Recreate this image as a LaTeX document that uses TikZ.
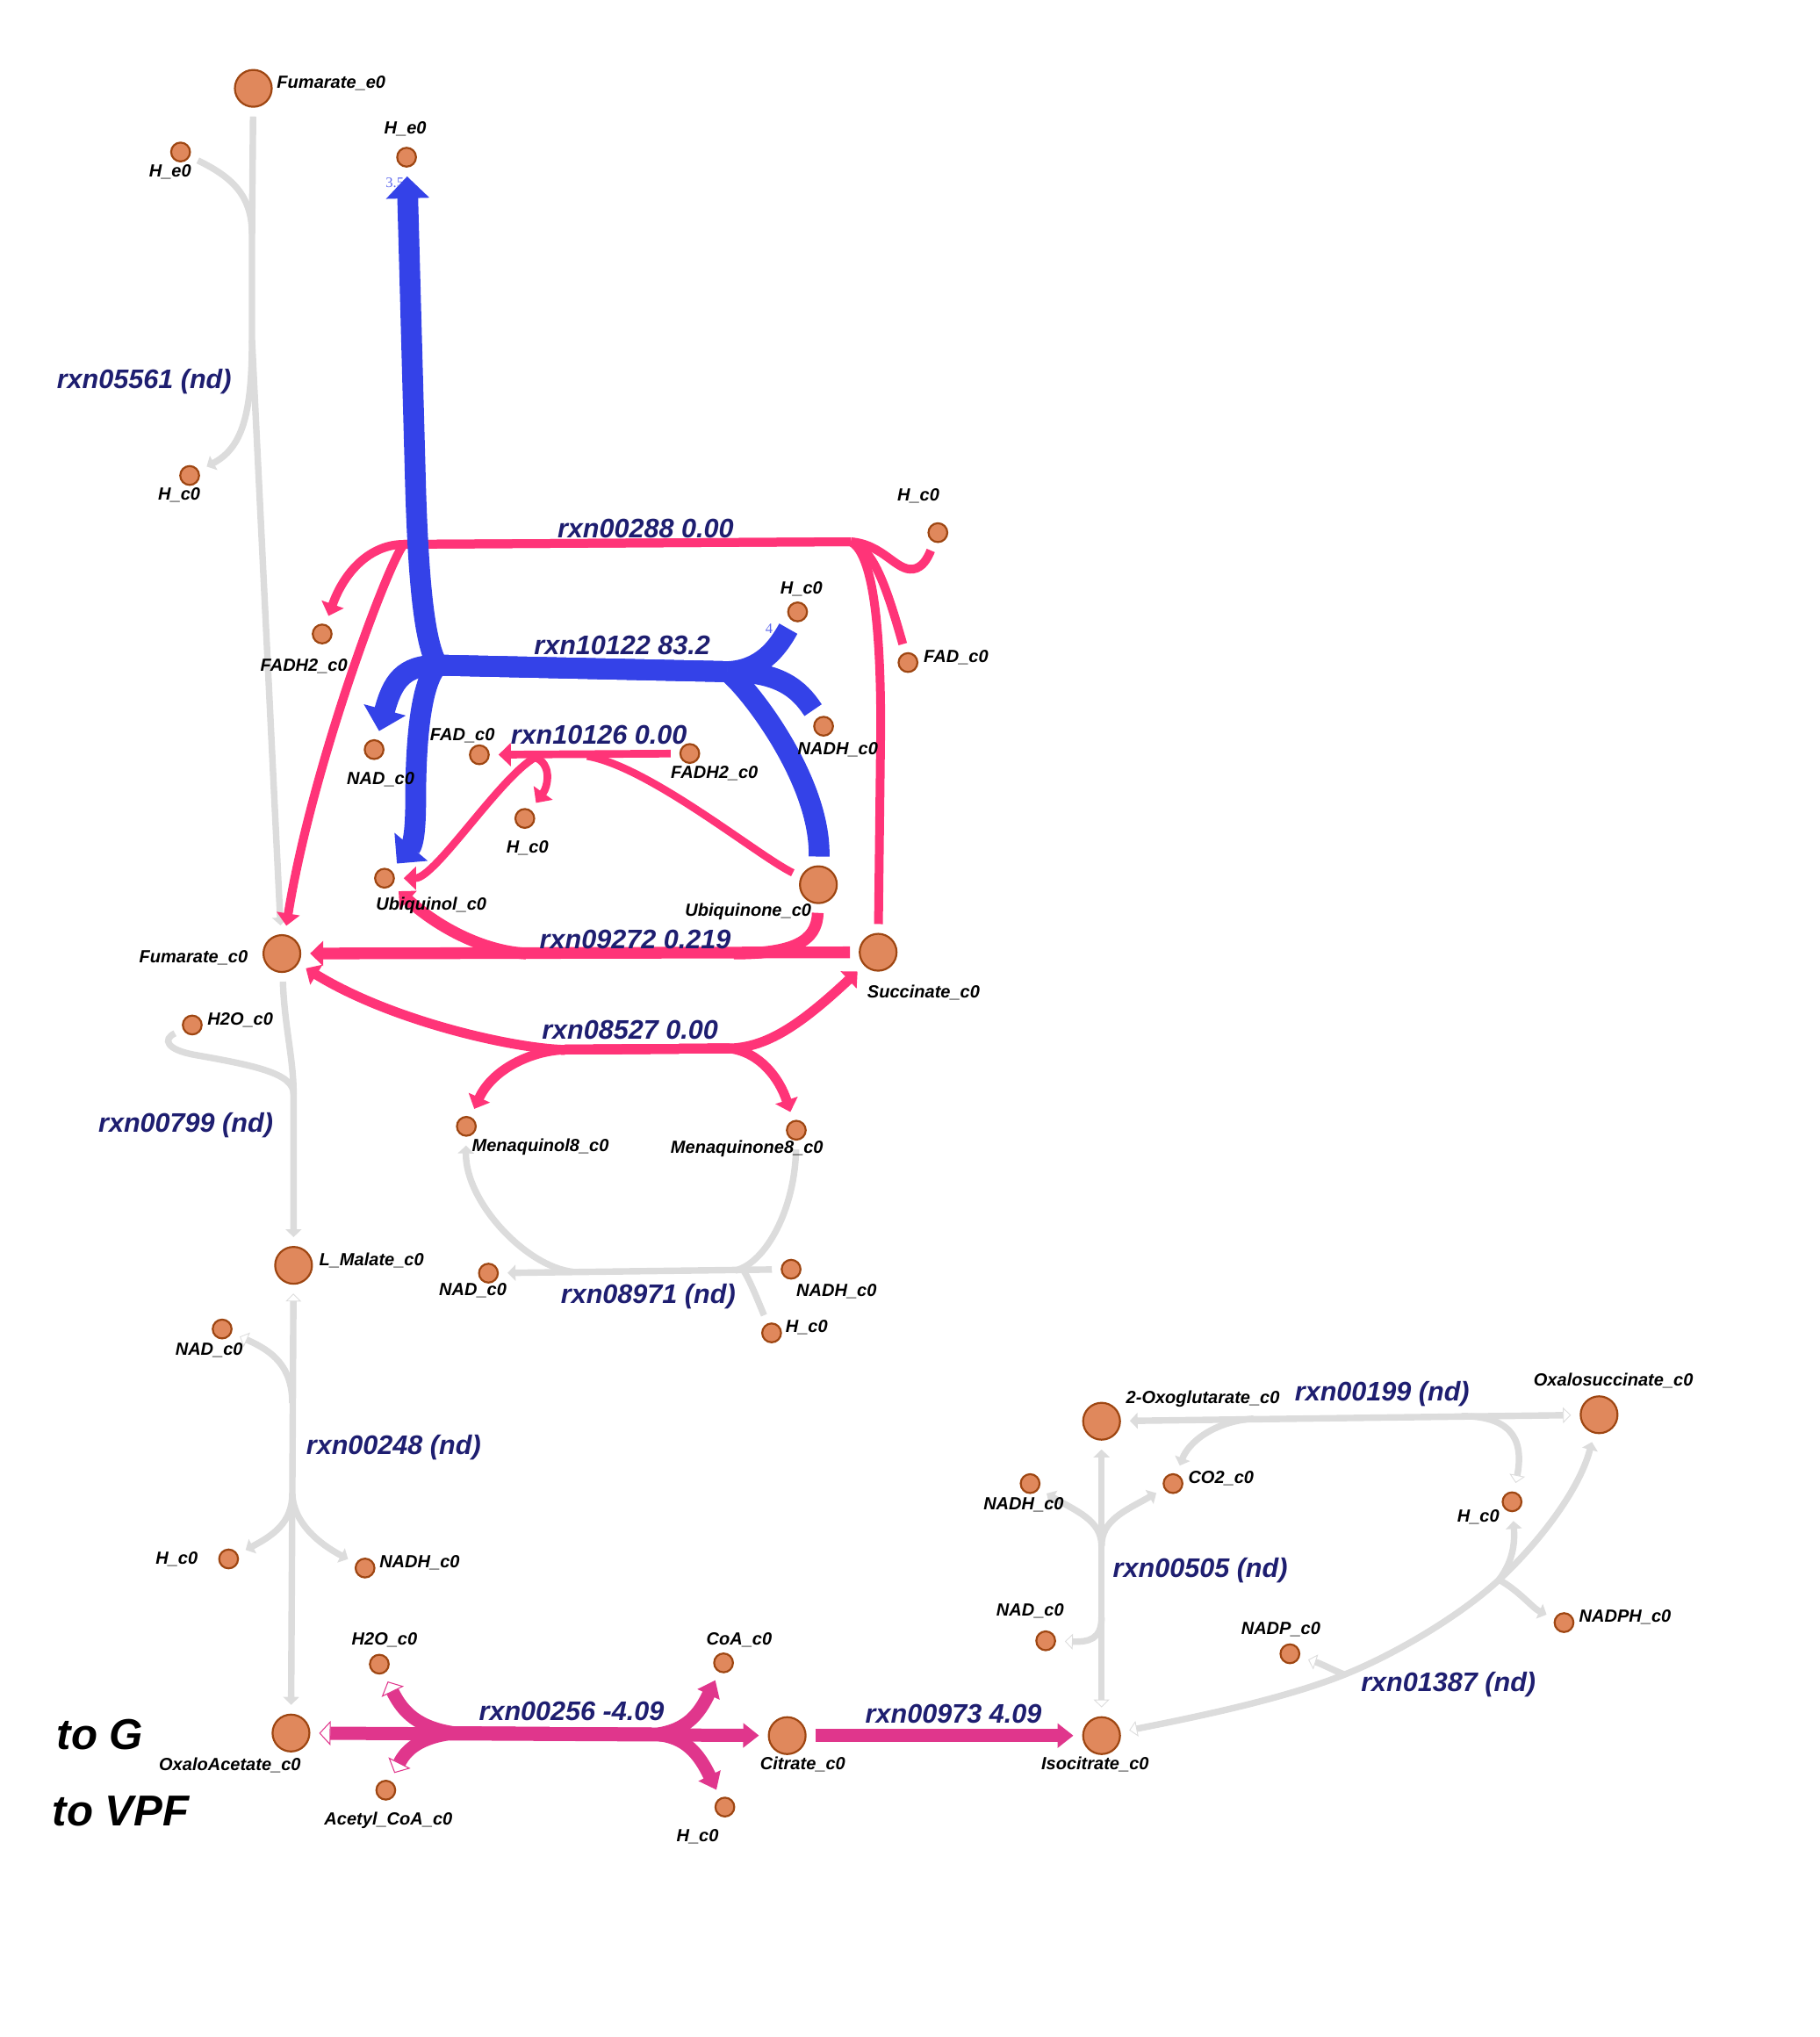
\documentclass[tikz,border=0pt]{standalone}
\usepackage{fontspec}
\setmainfont{Liberation Sans}
\newfontfamily\fluxnumfont{Liberation Serif}
\usepackage{xcolor}
\usetikzlibrary{positioning,arrows.meta}
\pgfdeclarelayer{edges}
\pgfsetlayers{edges,main}
\definecolor{metfill}{RGB}{224,136,92}
\definecolor{metedge}{RGB}{158,70,18}
\definecolor{fxblue}{RGB}{52,66,232}
\definecolor{fxpink}{RGB}{255,52,120}
\definecolor{fxmag}{RGB}{224,54,140}
\definecolor{fxgrey}{RGB}{220,220,220}
\definecolor{rxnnavy}{RGB}{30,30,112}
\tikzset{
  met/.style={circle, draw=metedge, fill=metfill, line width=0.22mm, minimum size=4.2mm, inner sep=0pt},
  smet/.style={met, minimum size=2.15mm},
  mlab/.style={font=\fontsize{5.7}{6}\selectfont\bfseries\itshape, inner sep=0pt},
  rlab/.style={font=\fontsize{8.7}{9}\selectfont\bfseries\itshape, text=rxnnavy, inner sep=0pt},
  biglab/.style={font=\fontsize{14}{15}\selectfont\bfseries\itshape, inner sep=0pt},
  numlab/.style={font=\fluxnumfont\fontsize{4.7}{5}\selectfont, text=fxblue!80, inner sep=0pt},
  GTip/.tip={Triangle[length=0.9mm, width=1.8mm]},
  GOpen/.tip={Triangle[open, fill=white, line width=0.25pt, length=0.9mm, width=1.8mm]},
  PTip/.tip={Triangle[length=1.4mm, width=2.6mm]},
  PTipL/.tip={Triangle[length=1.5mm, width=2.8mm]},
  BTip/.tip={Triangle[length=2.5mm, width=4.8mm]},
  MTip/.tip={Triangle[length=1.8mm, width=2.7mm]},
  MOpen/.tip={Triangle[open, fill=white, line width=0.3pt, length=1.3mm, width=2.8mm]},
  sgap/.style={shorten <=1mm},
  egap/.style={shorten >=1mm},
  gline/.style={draw=fxgrey, line width=0.74mm},
  p288/.style={draw=fxpink, line width=1.0mm},
  p126/.style={draw=fxpink, line width=0.87mm},
  p272/.style={draw=fxpink, line width=1.33mm},
  p527/.style={draw=fxpink, line width=1.1mm},
  m256/.style={draw=fxmag, line width=1.5mm},
  b122/.style={draw=fxblue, line width=2.37mm}
}

\begin{document}
\begin{tikzpicture}[x=0.14797mm, y=-0.14797mm]
  \useasboundingbox (0,0) rectangle (1401,1568);

  \node[met] (fum-e0) at (195,68) {};
  \node[smet] (h-e0a) at (139,117) {};
  \node[smet] (h-e0b) at (313,121) {};
  \node[smet] (h-c0a) at (146,366) {};
  \node[smet] (h-c0c) at (722,410) {};
  \node[smet] (h-c0b) at (614,471) {};
  \node[smet] (fadh2-a) at (248,488) {};
  \node[smet] (fad-a) at (699,510) {};
  \node[smet] (nadh-a) at (634,559) {};
  \node[smet] (nad-a) at (288,577) {};
  \node[smet] (fad-b) at (369,581) {};
  \node[smet] (fadh2-b) at (531,580) {};
  \node[smet] (h-c0d) at (404,630) {};
  \node[smet] (uql) at (296,676) {};
  \node[met] (uqn) at (630,681) {};
  \node[met] (fum-c0) at (217,734) {};
  \node[met] (succ) at (676,733) {};
  \node[smet] (h2o-a) at (148,789) {};
  \node[smet] (mql8) at (359,867) {};
  \node[smet] (mqn8) at (613,870) {};
  \node[met] (mal) at (226,974) {};
  \node[smet] (nad-b) at (376,980) {};
  \node[smet] (nadh-b) at (609,977) {};
  \node[smet] (h-c0e) at (594,1026) {};
  \node[smet] (nad-c) at (171,1023) {};
  \node[smet] (h-c0f) at (176,1200) {};
  \node[smet] (nadh-c) at (281,1207) {};
  \node[smet] (h2o-b) at (292,1281) {};
  \node[smet] (coa) at (557,1280) {};
  \node[met] (oaa) at (224,1334) {};
  \node[met] (cit) at (606,1336) {};
  \node[met] (icit) at (848,1336) {};
  \node[smet] (accoa) at (297,1378) {};
  \node[smet] (h-c0g) at (558,1391) {};
  \node[met] (akg) at (848,1094) {};
  \node[met] (osuc) at (1231,1089) {};
  \node[smet] (nadh-d) at (793,1142) {};
  \node[smet] (co2) at (903,1142) {};
  \node[smet] (h-c0h) at (1164,1156) {};
  \node[smet] (nad-d) at (805,1263) {};
  \node[smet] (nadp) at (993,1273) {};
  \node[smet] (nadph) at (1204,1249) {};

  \node[mlab] (fum-e0-t) at (255,64) {Fumarate\_e0};
  \node[mlab] (h-e0a-t) at (131,132) {H\_e0};
  \node[mlab] (h-e0b-t) at (312,99) {H\_e0};
  \node[mlab] (h-c0a-t) at (138,381) {H\_c0};
  \node[mlab] (h-c0c-t) at (707,382) {H\_c0};
  \node[mlab] (h-c0b-t) at (617,453) {H\_c0};
  \node[mlab] (fadh2-a-t) at (234,513) {FADH2\_c0};
  \node[mlab] (fad-a-t) at (736,506) {FAD\_c0};
  \node[mlab] (nadh-a-t) at (645,577) {NADH\_c0};
  \node[mlab] (nad-a-t) at (293,600) {NAD\_c0};
  \node[mlab] (fad-b-t) at (356,566) {FAD\_c0};
  \node[mlab] (fadh2-b-t) at (550,595) {FADH2\_c0};
  \node[mlab] (h-c0d-t) at (406,653) {H\_c0};
  \node[mlab] (uql-t) at (332,697) {Ubiquinol\_c0};
  \node[mlab] (uqn-t) at (576,702) {Ubiquinone\_c0};
  \node[mlab] (fum-c0-t) at (149,737) {Fumarate\_c0};
  \node[mlab] (succ-t) at (711,764) {Succinate\_c0};
  \node[mlab] (h2o-a-t) at (185,785) {H2O\_c0};
  \node[mlab] (mql8-t) at (416,883) {Menaquinol8\_c0};
  \node[mlab] (mqn8-t) at (575,884) {Menaquinone8\_c0};
  \node[mlab] (mal-t) at (286,970) {L\_Malate\_c0};
  \node[mlab] (nad-b-t) at (364,993) {NAD\_c0};
  \node[mlab] (nadh-b-t) at (644,994) {NADH\_c0};
  \node[mlab] (h-c0e-t) at (621,1022) {H\_c0};
  \node[mlab] (nad-c-t) at (161,1039) {NAD\_c0};
  \node[mlab] (h-c0f-t) at (136,1200) {H\_c0};
  \node[mlab] (nadh-c-t) at (323,1203) {NADH\_c0};
  \node[mlab] (h2o-b-t) at (296,1262) {H2O\_c0};
  \node[mlab] (coa-t) at (569,1262) {CoA\_c0};
  \node[mlab] (oaa-t) at (177,1359) {OxaloAcetate\_c0};
  \node[mlab] (cit-t) at (618,1358) {Citrate\_c0};
  \node[mlab] (icit-t) at (843,1358) {Isocitrate\_c0};
  \node[mlab] (accoa-t) at (299,1401) {Acetyl\_CoA\_c0};
  \node[mlab] (h-c0g-t) at (537,1414) {H\_c0};
  \node[mlab] (akg-t) at (926,1077) {2-Oxoglutarate\_c0};
  \node[mlab] (osuc-t) at (1242,1063) {Oxalosuccinate\_c0};
  \node[mlab] (nadh-d-t) at (788,1158) {NADH\_c0};
  \node[mlab] (co2-t) at (940,1138) {CO2\_c0};
  \node[mlab] (h-c0h-t) at (1138,1168) {H\_c0};
  \node[mlab] (nad-d-t) at (793,1240) {NAD\_c0};
  \node[mlab] (nadp-t) at (986,1254) {NADP\_c0};
  \node[mlab] (nadph-t) at (1251,1245) {NADPH\_c0};

  \node[rlab] (rxn05561) at (111,294) {rxn05561 (nd)};
  \node[rlab] (rxn00288) at (497,407) {rxn00288 0.00};
  \node[rlab] (rxn10122) at (479,497) {rxn10122 83.2};
  \node[rlab] (rxn10126) at (461,566) {rxn10126 0.00};
  \node[rlab] (rxn09272) at (489,723) {rxn09272 0.219};
  \node[rlab] (rxn08527) at (485,793) {rxn08527 0.00};
  \node[rlab] (rxn00799) at (143,866) {rxn00799 (nd)};
  \node[rlab] (rxn08971) at (499,998) {rxn08971 (nd)};
  \node[rlab] (rxn00248) at (303,1114) {rxn00248 (nd)};
  \node[rlab] (rxn00256) at (440,1317) {rxn00256 -4.09};
  \node[rlab] (rxn00973) at (734,1319) {rxn00973 4.09};
  \node[rlab] (rxn00199) at (1064,1073) {rxn00199 (nd)};
  \node[rlab] (rxn00505) at (924,1209) {rxn00505 (nd)};
  \node[rlab] (rxn01387) at (1115,1297) {rxn01387 (nd)};
  \node[biglab] (to-g) at (77,1335) {to G};
  \node[biglab] (to-vpf) at (93,1394) {to VPF};

  \coordinate (r05561a) at (194,180);
  \coordinate (r05561b) at (194,262);
  \coordinate (r10122a) at (337,512);
  \coordinate (r10122b) at (560,517);
  \coordinate (r00288a) at (311,419);
  \coordinate (r00288b) at (655,417);
  \coordinate (r10126a) at (412,583);
  \coordinate (r10126b) at (452,582);
  \coordinate (r09272a) at (405,734);
  \coordinate (r09272b) at (565,734);
  \coordinate (r08527a) at (432,808);
  \coordinate (r08527b) at (562,807);
  \coordinate (r00799) at (226,842);
  \coordinate (r08971a) at (441,979);
  \coordinate (r08971b) at (566,978);
  \coordinate (r08971c) at (573,979);
  \coordinate (r00248a) at (225,1080);
  \coordinate (r00248b) at (225,1150);
  \coordinate (r00256a) at (350,1334);
  \coordinate (r00256b) at (505,1335);
  \coordinate (r00505a) at (848,1190);
  \coordinate (r00505b) at (848,1245);
  \coordinate (r00199a) at (965,1092);
  \coordinate (r00199b) at (1125,1090);
  \coordinate (r01387a) at (1035,1289);
  \coordinate (r01387b) at (1154,1216);

  \begin{pgfonlayer}{edges}
    \draw[gline, sgap, egap, -{GTip}] (fum-e0) -- (r05561a) -- (r05561b) -- (fum-c0);
    \draw[gline, sgap] (h-e0a) .. controls (178,136) and (194,150) .. (r05561a);
    \draw[gline, egap, -{GTip}] (r05561b) .. controls (194,320) and (186,345) .. (h-c0a);
    \draw[gline, sgap, egap, -{GTip}] (fum-c0) .. controls (219,790) and (226,815) .. (r00799) -- (mal);
    \draw[gline, sgap] (h2o-a) .. controls (125,800) and (128,808) .. (150,812) .. controls (195,820) and (226,826) .. (r00799);
    \draw[gline, sgap, egap, {GOpen}-{GTip}] (mal) -- (oaa);
    \draw[gline, egap, -{GOpen}] (r00248a) .. controls (225,1052) and (210,1040) .. (nad-c);
    \draw[gline, egap, -{GTip}] (r00248b) .. controls (225,1172) and (210,1182) .. (h-c0f);
    \draw[gline, egap, -{GTip}] (r00248b) .. controls (226,1172) and (245,1188) .. (nadh-c);
    \draw[gline, sgap, egap, -{GTip}] (nadh-b) -- (nad-b);
    \draw[gline, egap, -{GTip}] (r08971a) .. controls (405,975) and (358,925) .. (mql8);
    \draw[gline, sgap] (mqn8) .. controls (612,930) and (590,972) .. (r08971b);
    \draw[gline, sgap] (h-c0e) .. controls (585,1005) and (578,987) .. (r08971c);
    \draw[gline, sgap, egap, {GOpen}-{GTip}] (icit) -- (akg);
    \draw[gline, egap, -{GTip}] (r00505a) .. controls (848,1170) and (828,1163) .. (nadh-d);
    \draw[gline, egap, -{GTip}] (r00505a) .. controls (848,1170) and (866,1163) .. (co2);
    \draw[gline, egap, -{GOpen}] (r00505b) .. controls (848,1262) and (838,1264) .. (nad-d);
    \draw[gline, sgap, egap, {GTip}-{GOpen}] (akg) -- (osuc);
    \draw[gline, egap, -{GTip}] (r00199a) .. controls (935,1094) and (915,1110) .. (co2);
    \draw[gline, egap, -{GOpen}] (r00199b) .. controls (1160,1090) and (1174,1105) .. (h-c0h);
    \draw[gline, sgap, egap, {GOpen}-{GTip}] (icit) .. controls (940,1318) and (995,1305) .. (r01387a) .. controls (1075,1273) and (1125,1243) .. (r01387b) .. controls (1180,1192) and (1215,1150) .. (osuc);
    \draw[gline, egap, -{GOpen}] (r01387a) .. controls (1025,1285) and (1018,1281) .. (nadp);
    \draw[gline, egap, -{GTip}] (r01387b) .. controls (1166,1200) and (1166,1185) .. (h-c0h);
    \draw[gline, egap, -{GTip}] (r01387b) .. controls (1170,1225) and (1180,1238) .. (nadph);

    \draw[p288] (r00288a) -- (r00288b);
    \draw[p288, egap, -{PTip}] (r00288b) -- (r00288a) .. controls (285,419) and (265,440) .. (fadh2-a);
    \draw[p288, egap, -{PTip}] (r00288a) .. controls (300,430) and (240,590) .. (fum-c0);
    \draw[p288, egap] (r00288b) .. controls (680,419) and (690,440) .. (703,438) .. controls (710,437) and (714,430) .. (h-c0c);
    \draw[p288, egap] (r00288b) .. controls (672,422) and (682,450) .. (fad-a);
    \draw[p288, egap] (r00288b) .. controls (670,425) and (678,470) .. (678,560) -- (succ);

    \draw[p126, sgap, egap, -{PTip}] (fadh2-b) -- (fad-b);
    \draw[p126, egap, -{PTip}] (r10126a) .. controls (425,588) and (422,605) .. (h-c0d);
    \draw[p126, egap, -{PTip}] (r10126a) .. controls (385,598) and (335,676) .. (uql);
    \draw[p126, sgap] (uqn) .. controls (585,660) and (500,590) .. (r10126b);

    \draw[p272, sgap, egap, -{PTipL}] (succ) -- (fum-c0);
    \draw[p272, sgap] (uqn) .. controls (629,725) and (610,734) .. (r09272b);
    \draw[p272, egap, -{PTipL}] (r09272a) .. controls (370,732) and (335,712) .. (uql);

    \draw[p527] (r08527a) -- (r08527b);
    \draw[p527, egap, -{PTip}] (r08527b) -- (r08527a) .. controls (390,806) and (300,785) .. (fum-c0);
    \draw[p527, egap, -{PTip}] (r08527b) -- (r08527a) .. controls (405,810) and (378,825) .. (mql8);
    \draw[p527, egap, -{PTip}] (r08527a) -- (r08527b) .. controls (590,806) and (615,790) .. (succ);
    \draw[p527, egap, -{PTip}] (r08527a) -- (r08527b) .. controls (585,810) and (600,830) .. (mqn8);

    \draw[m256, sgap, egap, {MOpen}-{MTip}] (oaa) -- (cit);
    \draw[m256, egap, -{MOpen}] (r00256b) -- (r00256a) .. controls (322,1330) and (310,1318) .. (h2o-b);
    \draw[m256, egap, -{MOpen}] (r00256b) -- (r00256a) .. controls (322,1337) and (312,1348) .. (accoa);
    \draw[m256, egap, -{MTip}] (r00256a) -- (r00256b) .. controls (528,1332) and (538,1320) .. (coa);
    \draw[m256, egap, -{MTip}] (r00256a) -- (r00256b) .. controls (528,1337) and (538,1350) .. (h-c0g);
    \draw[m256, sgap, egap, -{MTip}] (cit) -- (icit);

    \node[numlab] (flux-he0) at (304,141) {3.5};
    \node[numlab] (flux-hc0) at (592,484) {4};
    \draw[b122, egap, -{BTip}] (r10122b) -- (r10122a) .. controls (326,495) and (322,440) .. (320,378) -- (h-e0b);
    \draw[b122, egap, -{BTip}] (r10122b) -- (r10122a) .. controls (310,512) and (302,525) .. (nad-a);
    \draw[b122, egap, -{BTip}] (r10122b) -- (r10122a) .. controls (324,525) and (320,570) .. (320,615) .. controls (320,640) and (318,650) .. (uql);
    \draw[b122, sgap] (h-c0b) .. controls (598,500) and (585,516) .. (r10122b);
    \draw[b122, sgap] (nadh-a) .. controls (615,530) and (600,517) .. (r10122b);
    \draw[b122, sgap] (uqn) .. controls (632,600) and (575,528) .. (r10122b);
  \end{pgfonlayer}
\end{tikzpicture}
\end{document}
